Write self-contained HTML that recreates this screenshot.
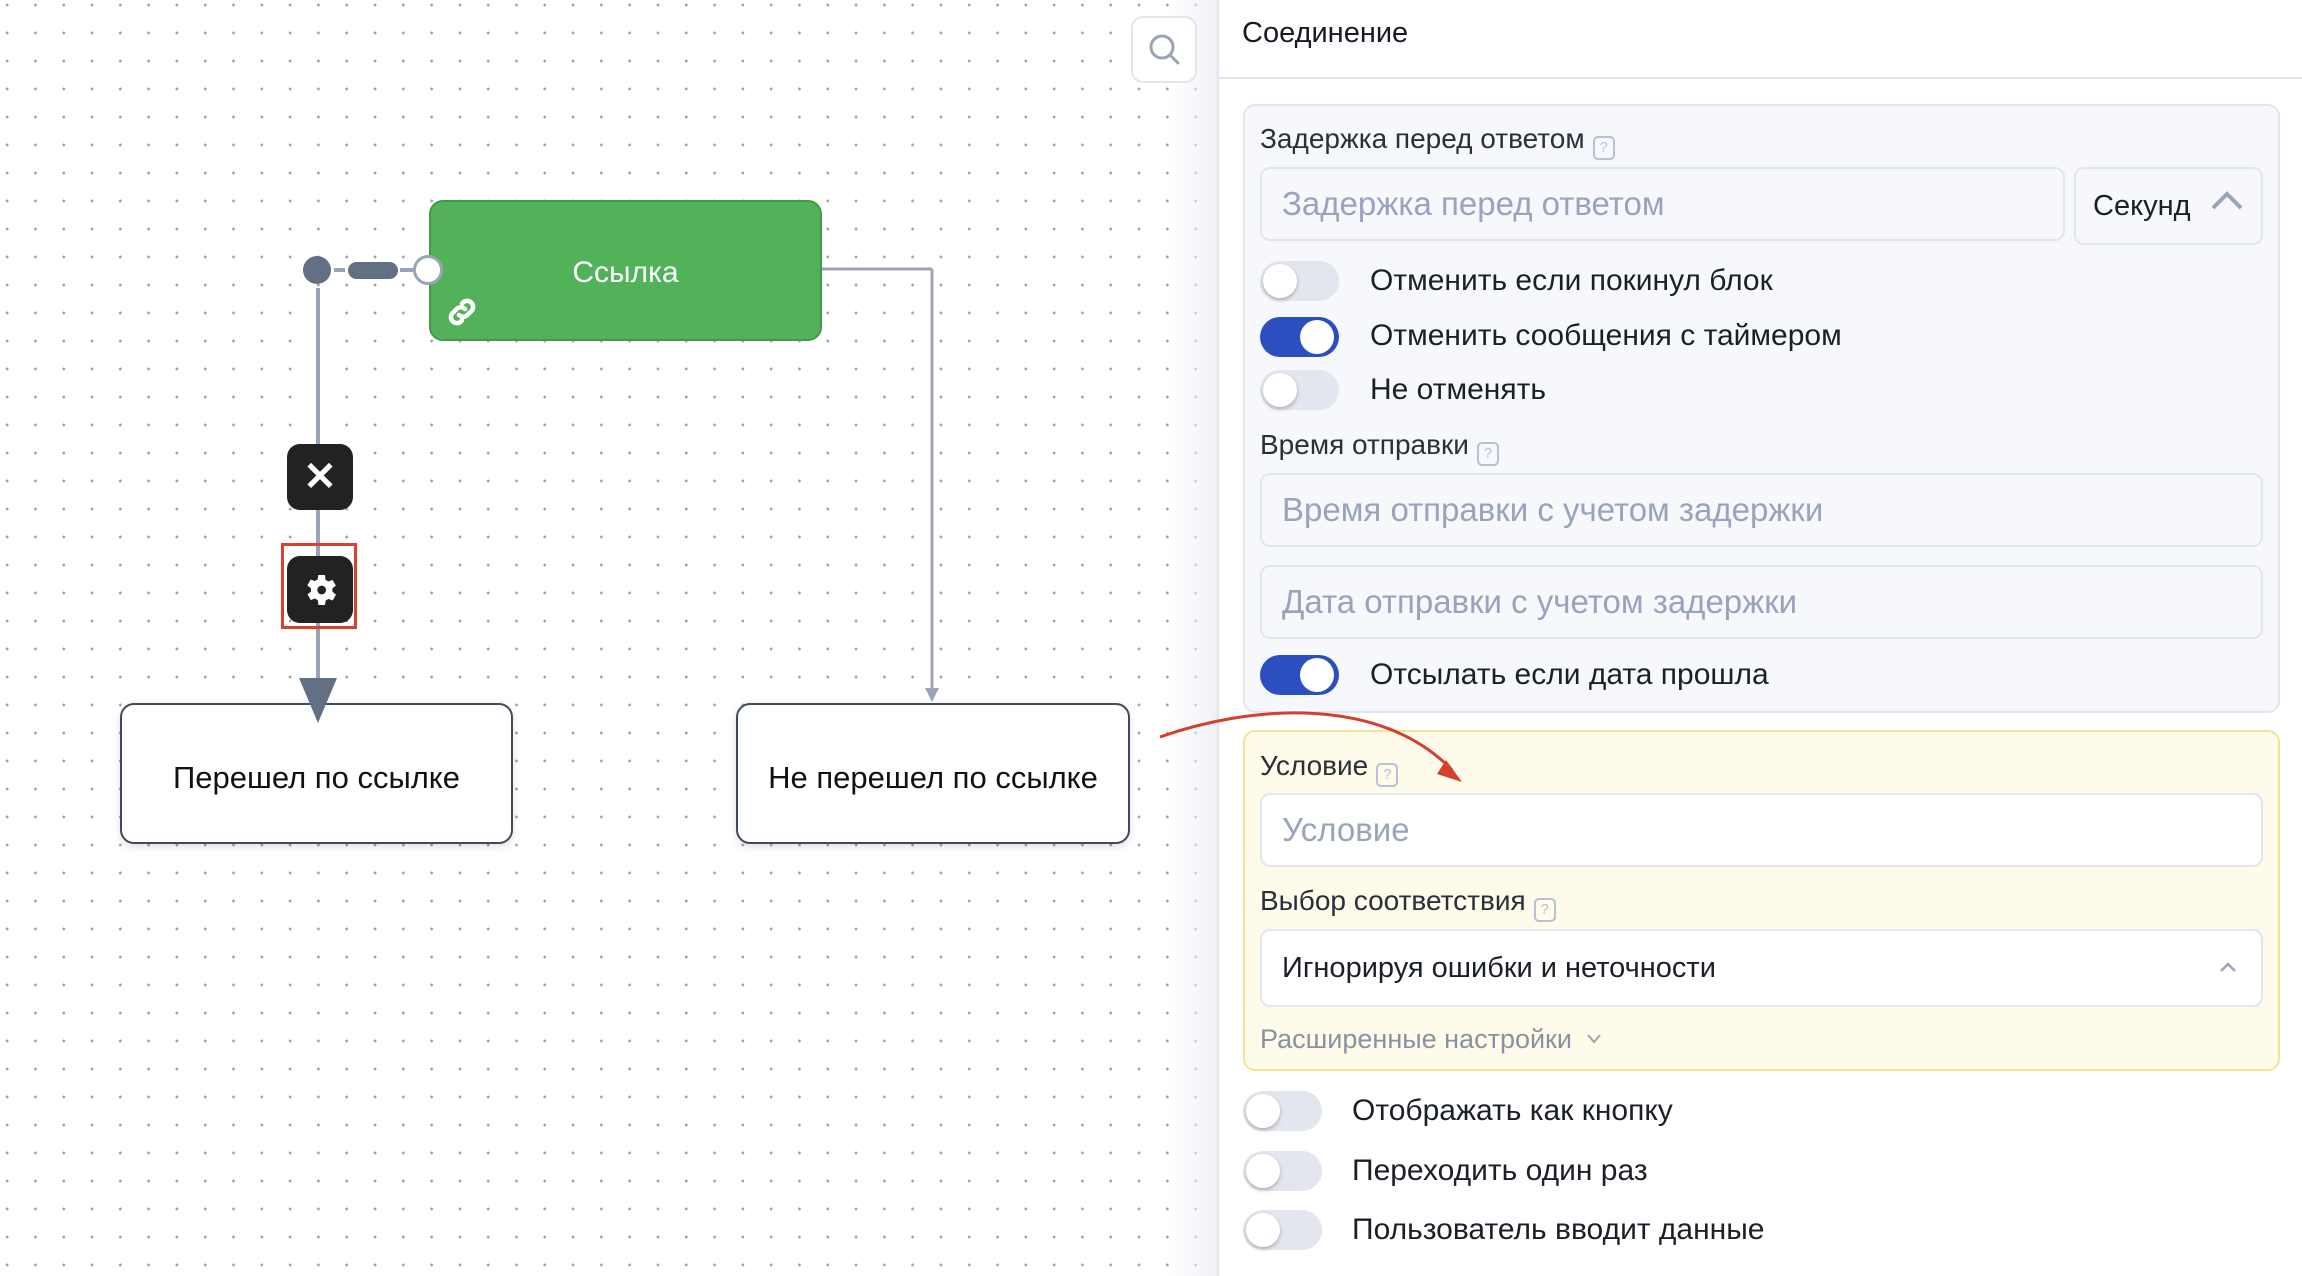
<!DOCTYPE html>
<html><head><meta charset="utf-8"><style>
*{box-sizing:border-box;margin:0;padding:0}
body{width:2302px;height:1276px;overflow:hidden;background:#fff;font-family:"Liberation Sans",sans-serif;position:relative}
.canvas{position:absolute;left:0;top:0;width:1217px;height:1276px;
background-image:radial-gradient(circle,#a5a5a5 1.3px,transparent 1.6px);background-size:28.3px 28px;background-position:-7px -9px}
.shade{position:absolute;left:1170px;top:0;width:47px;height:1276px;background:linear-gradient(90deg,rgba(240,242,246,0),rgba(240,242,246,1))}
.panel{position:absolute;left:1217px;top:0;width:1085px;height:1276px;background:#fff;border-left:2px solid #e3e6ee}
.abs{position:absolute}
.node{position:absolute;border:2.5px solid #414b5e;border-radius:14px;background:#fff;display:flex;align-items:center;justify-content:center;font-size:31px;color:#111;box-shadow:0 3px 8px rgba(0,0,0,.12);padding-top:8px}
.lbl{position:absolute;font-size:28px;color:#2a2f3a;white-space:nowrap}
.q{display:inline-block;width:22px;height:24px;border:2px solid #b7c0d4;border-radius:5px;color:#b7c0d4;font-size:15px;text-align:center;line-height:20px;vertical-align:-4px;margin-left:8px}
.inp{position:absolute;background:#f7f8fb;border:2px solid #e3e6ee;border-radius:10px;font-size:33px;color:#9aa3bd;padding-left:20px;display:flex;align-items:center}
.tg{position:absolute;width:79px;height:40px;border-radius:20px;background:#e3e6ee}
.tg::after{content:"";position:absolute;left:3px;top:3px;width:34px;height:34px;border-radius:50%;background:#fff;box-shadow:0 2px 4px rgba(0,0,0,.25)}
.tg.on{background:#2c4fbf}
.tg.on::after{left:40px;box-shadow:none}
.tt{position:absolute;font-size:30px;color:#1b1f27;white-space:nowrap}
</style></head><body>
<div class="canvas"></div>
<div class="shade"></div>

<svg class="abs" style="left:0;top:0" width="1217" height="1276">
 <line x1="318" y1="288" x2="318" y2="690" stroke="#9ca3b8" stroke-width="4"/>
 <line x1="822" y1="269" x2="932" y2="269" stroke="#9ca3b8" stroke-width="3"/>
 <line x1="932" y1="269" x2="932" y2="690" stroke="#9ca3b8" stroke-width="3"/>
 <polygon points="925,688 939,688 932,702" fill="#9ca3b8"/>
 <line x1="334" y1="270" x2="345" y2="270" stroke="#9ca3b8" stroke-width="4"/>
 <line x1="400" y1="270" x2="414" y2="270" stroke="#9ca3b8" stroke-width="4"/>
 <circle cx="317" cy="270" r="14" fill="#627083"/>
 <rect x="348" y="262" width="50" height="17" rx="8.5" fill="#627083"/>
</svg>

<div class="abs" style="left:429px;top:200px;width:393px;height:141px;background:#52b25a;border:2px solid #43984a;border-radius:14px;color:#fff;font-size:30px;display:flex;align-items:center;justify-content:center;padding-top:4px">Ссылка</div>
<svg class="abs" style="left:444px;top:294px" width="36" height="36" viewBox="0 0 24 24" fill="none" stroke="#fff" stroke-width="3" stroke-linecap="round"><path d="M10 14a4 4 0 0 0 5.6 0l3-3a4 4 0 0 0-5.6-5.6l-1 1"/><path d="M14 10a4 4 0 0 0-5.6 0l-3 3a4 4 0 0 0 5.6 5.6l1-1"/></svg>
<svg class="abs" style="left:412px;top:254px" width="32" height="32"><circle cx="16" cy="16" r="13.5" fill="#fff" stroke="#9aa3b8" stroke-width="3"/></svg>

<div class="abs" style="left:287px;top:444px;width:66px;height:66px;background:#222;border-radius:13px;color:#fff;font-size:40px;font-weight:bold;display:flex;align-items:center;justify-content:center">✕</div>
<div class="abs" style="left:281px;top:543px;width:76px;height:86px;border:3px solid #d8412f"></div>
<div class="abs" style="left:287px;top:556px;width:66px;height:67px;background:#222;border-radius:13px"></div>
<svg class="abs" style="left:299px;top:570px" width="42" height="40" viewBox="0 0 24 24"><path fill="#fff" d="M19.4 13a7.5 7.5 0 0 0 0-2l2.1-1.6-2-3.5-2.5 1a7.6 7.6 0 0 0-1.7-1L15 3h-4l-.4 2.7a7.6 7.6 0 0 0-1.7 1l-2.5-1-2 3.5L6.6 11a7.5 7.5 0 0 0 0 2l-2.1 1.6 2 3.5 2.5-1a7.6 7.6 0 0 0 1.7 1L11 21h4l.4-2.7a7.6 7.6 0 0 0 1.7-1l2.5 1 2-3.5z"/><circle cx="13" cy="12" r="2.6" fill="#222"/></svg>

<div class="node" style="left:120px;top:703px;width:393px;height:141px">Перешел по ссылке</div>
<div class="node" style="left:736px;top:703px;width:394px;height:141px">Не перешел по ссылке</div>
<svg class="abs" style="left:0;top:0" width="600" height="800"><polygon points="299,678 337,678 318,723" fill="#627083"/></svg>

<div class="abs" style="left:1131px;top:16px;width:66px;height:67px;background:#fff;border:2px solid #e1e5ee;border-radius:12px"></div>
<svg class="abs" style="left:1145px;top:30px" width="40" height="40"><circle cx="17" cy="17" r="11" fill="none" stroke="#9aa3b8" stroke-width="3"/><line x1="25" y1="25" x2="33" y2="33" stroke="#9aa3b8" stroke-width="3" stroke-linecap="round"/></svg>

<div class="panel"></div>
<div class="abs" style="left:1242px;top:17px;font-size:29px;color:#151a24">Соединение</div>
<div class="abs" style="left:1217px;top:77px;width:1085px;height:2px;background:#e3e6ee"></div>

<div class="abs" style="left:1243px;top:104px;width:1037px;height:609px;background:#f7f8fb;border:2px solid #e3e6ee;border-radius:12px"></div>
<div class="lbl" style="left:1260px;top:123px">Задержка перед ответом<span class="q">?</span></div>
<div class="inp" style="left:1260px;top:167px;width:805px;height:74px">Задержка перед ответом</div>
<div class="inp" style="left:2074px;top:167px;width:189px;height:78px;color:#1b1f27;font-size:29px;padding-left:17px">Секунд</div>
<svg class="abs" style="left:2210px;top:190px" width="34" height="22"><polyline points="3,18 17,4 31,18" fill="none" stroke="#9aa3b8" stroke-width="4"/></svg>

<div class="tg" style="left:1260px;top:261px"></div><div class="tt" style="left:1370px;top:264px">Отменить если покинул блок</div>
<div class="tg on" style="left:1260px;top:317px"></div><div class="tt" style="left:1370px;top:319px">Отменить сообщения с таймером</div>
<div class="tg" style="left:1260px;top:370px"></div><div class="tt" style="left:1370px;top:373px">Не отменять</div>
<div class="lbl" style="left:1260px;top:429px">Время отправки<span class="q">?</span></div>
<div class="inp" style="left:1260px;top:473px;width:1003px;height:74px">Время отправки с учетом задержки</div>
<div class="inp" style="left:1260px;top:565px;width:1003px;height:74px">Дата отправки с учетом задержки</div>
<div class="tg on" style="left:1260px;top:655px"></div><div class="tt" style="left:1370px;top:658px">Отсылать если дата прошла</div>

<div class="abs" style="left:1243px;top:730px;width:1037px;height:341px;background:#fefbeb;border:2px solid #f6e391;border-radius:12px"></div>
<div class="lbl" style="left:1260px;top:750px">Условие<span class="q">?</span></div>
<div class="inp" style="left:1260px;top:793px;width:1003px;height:74px;background:#fff">Условие</div>
<div class="lbl" style="left:1260px;top:885px">Выбор соответствия<span class="q">?</span></div>
<div class="inp" style="left:1260px;top:929px;width:1003px;height:78px;background:#fff;color:#1b1f27;font-size:29px">Игнорируя ошибки и неточности</div>
<svg class="abs" style="left:2218px;top:960px" width="20" height="14"><polyline points="3,11 10,4 17,11" fill="none" stroke="#9aa3b8" stroke-width="2.5"/></svg>
<div class="lbl" style="left:1260px;top:1024px;color:#8a91a3;font-size:27px">Расширенные настройки</div>
<svg class="abs" style="left:1586px;top:1032px" width="16" height="14"><polyline points="2,3 8,10 14,3" fill="none" stroke="#9aa3b8" stroke-width="2"/></svg>

<div class="tg" style="left:1243px;top:1091px"></div><div class="tt" style="left:1352px;top:1094px">Отображать как кнопку</div>
<div class="tg" style="left:1243px;top:1151px"></div><div class="tt" style="left:1352px;top:1154px">Переходить один раз</div>
<div class="tg" style="left:1243px;top:1210px"></div><div class="tt" style="left:1352px;top:1213px">Пользователь вводит данные</div>

<svg class="abs" style="left:0;top:0;pointer-events:none" width="2302" height="1276">
 <path d="M1160,737 C1250,705 1380,695 1452,770" fill="none" stroke="#d4402c" stroke-width="3"/>
 <polygon points="1446,760 1462,782 1437,774" fill="#d4402c"/>
</svg>
</body></html>
